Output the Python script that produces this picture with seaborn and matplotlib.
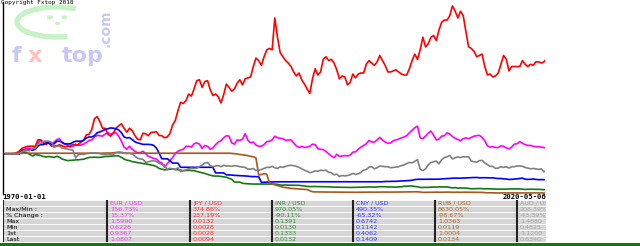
import numpy as np
import pandas as pd
import matplotlib
matplotlib.use("Agg")
import matplotlib.pyplot as plt
import seaborn as sns
from matplotlib.patches import Arc, Ellipse, Rectangle

# ---------------- data (quarterly, 1970-Q1 .. 2020-Q2, plus last day) ----------------
PAIRS = ["EUR / USD", "JPY / USD", "INR / USD", "CNY / USD", "RUB / USD", "AUD / USD"]
LINE_COLORS = ["#ff00ff", "#ff0000", "#137a13", "#0000ff", "#a8561f", "#808080"]
TEXT_COLORS = ["#f040f0", "#ff3030", "#2f8f2f", "#3838ff", "#b06a2a", "#a8a8a8"]

# USD per EUR
EUR_USD = [
0.9367, 0.935, 0.938, 0.940,
0.945, 0.970, 0.990, 1.030,
1.050, 1.070, 1.060, 1.060,
1.100, 1.200, 1.270, 1.190,
1.170, 1.230, 1.170, 1.220,
1.280, 1.300, 1.200, 1.170,
1.150, 1.100, 1.120, 1.170,
1.140, 1.150, 1.170, 1.210,
1.260, 1.270, 1.340, 1.380,
1.370, 1.360, 1.410, 1.440,
1.410, 1.430, 1.440, 1.360,
1.240, 1.100, 1.050, 1.120,
1.050, 1.000, 0.970, 0.970,
1.000, 0.950, 0.880, 0.860,
0.830, 0.820, 0.750, 0.730,
0.6228, 0.700, 0.780, 0.850,
0.950, 1.000, 1.030, 1.050,
1.120, 1.120, 1.100, 1.180,
1.200, 1.170, 1.070, 1.140,
1.120, 1.050, 1.080, 1.160,
1.220, 1.250, 1.320, 1.370,
1.360, 1.200, 1.170, 1.270,
1.260, 1.290, 1.420, 1.260,
1.200, 1.220, 1.150, 1.120,
1.120, 1.160, 1.230, 1.240,
1.270, 1.360, 1.320, 1.310,
1.300, 1.260, 1.270, 1.270,
1.200, 1.130, 1.090, 1.120,
1.090, 1.100, 1.120, 1.170,
1.160, 1.060, 1.050, 1.040,
1.000, 0.940, 0.890, 0.850,
0.930, 0.880, 0.890, 0.900,
0.890, 0.910, 0.980, 0.990,
1.050, 1.100, 1.140, 1.180,
1.260, 1.220, 1.220, 1.270,
1.330, 1.270, 1.220, 1.190,
1.200, 1.250, 1.270, 1.290,
1.320, 1.340, 1.370, 1.440,
1.500, 1.560, 1.599, 1.320,
1.300, 1.360, 1.430, 1.480,
1.380, 1.270, 1.290, 1.360,
1.370, 1.440, 1.410, 1.350,
1.310, 1.280, 1.250, 1.300,
1.320, 1.300, 1.330, 1.360,
1.370, 1.380, 1.330, 1.250,
1.130, 1.100, 1.110, 1.090,
1.090, 1.130, 1.120, 1.080,
1.060, 1.100, 1.170, 1.180,
1.230, 1.190, 1.160, 1.140,
1.140, 1.120, 1.110, 1.110,
1.100, 1.090, 1.0807]

# JPY per USD
JPY_PER_USD = [
360, 360, 360, 360,
358, 358, 337, 316,
308, 302, 301, 301,
301, 265, 265, 280,
290, 280, 300, 300,
298, 292, 298, 305,
302, 299, 290, 295,
290, 277, 266, 242,
240, 222, 190, 185,
198, 218, 218, 240,
248, 235, 218, 210,
204, 218, 232, 218,
226, 245, 262, 265,
236, 238, 246, 233,
232, 230, 245, 246,
255, 252, 238, 208,
195, 172, 156, 158,
153, 143, 146, 136,
126, 125, 134, 127,
126, 137, 145, 143,
147, 157, 144, 130,
134, 139, 136, 129,
125, 131, 124, 123,
122, 112, 105, 107,
111, 104, 99, 98,
99, 81, 91, 101,
104, 107, 109, 112,
117, 121, 118, 125,
130, 136, 142, 124,
114, 120, 117, 106,
104, 107, 106, 109,
115, 124, 121, 122,
131, 128, 119, 123,
119, 118, 118, 110,
107, 109, 111, 108,
103, 107, 111, 117,
117, 116, 115, 117,
119, 120, 120, 114,
107, 102, 106, 99,
91, 97, 95, 91,
90, 93, 87, 83,
82, 82, 80, 75.8,
78, 81, 78, 80,
88, 97, 98, 100,
104, 103, 102, 112,
120, 119, 122, 121,
118, 110, 103, 106,
116, 112, 112, 112,
112, 107, 110, 112,
110, 111, 108, 108,
109, 108, 106.8]

# INR per USD
INR_PER_USD = [
7.50, 7.50, 7.50, 7.50,
7.50, 7.50, 7.40, 7.28,
7.19, 7.30, 7.60, 7.90,
7.60, 7.70, 7.80, 8.00,
8.10, 8.00, 8.10, 8.20,
7.95, 8.20, 8.60, 8.80,
9.00, 8.95, 8.90, 8.80,
8.80, 8.70, 8.65, 8.40,
8.20, 8.20, 8.15, 8.20,
8.20, 8.10, 8.00, 8.00,
7.95, 7.90, 7.85, 7.90,
8.20, 8.60, 8.90, 9.00,
9.30, 9.40, 9.60, 9.70,
9.90, 10.00, 10.20, 10.40,
10.60, 11.00, 11.80, 12.20,
12.50, 12.40, 12.20, 12.10,
12.30, 12.50, 12.70, 13.00,
12.90, 12.80, 12.90, 13.00,
13.40, 13.80, 14.20, 14.80,
15.50, 16.20, 16.80, 17.00,
17.00, 17.40, 17.80, 18.20,
19.60, 20.80, 25.90, 26.00,
26.00, 29.00, 30.00, 30.50,
31.20, 31.40, 31.40, 31.40,
31.40, 31.40, 31.40, 31.40,
31.70, 31.40, 32.50, 35.00,
35.60, 34.70, 35.70, 35.80,
35.90, 35.80, 36.20, 38.00,
39.30, 41.50, 42.80, 42.50,
42.50, 43.00, 43.50, 43.50,
43.60, 44.30, 45.70, 46.50,
46.70, 47.00, 47.60, 48.00,
48.50, 48.80, 48.50, 48.20,
47.80, 47.20, 46.00, 45.60,
45.40, 45.50, 46.20, 45.00,
43.60, 43.60, 43.70, 45.50,
44.90, 45.80, 46.40, 44.80,
44.30, 41.00, 40.60, 39.40,
39.40, 42.00, 44.00, 48.60,
49.50, 48.00, 48.40, 46.70,
45.50, 46.30, 45.10, 44.80,
45.20, 44.60, 48.90, 53.00,
50.00, 55.50, 53.00, 54.80,
54.50, 59.00, 63.00, 62.00,
60.00, 59.50, 61.50, 63.00,
62.50, 63.80, 65.50, 66.50,
67.50, 67.30, 66.70, 67.90,
65.00, 64.60, 64.40, 63.90,
65.20, 68.50, 72.50, 70.00,
69.20, 69.70, 70.50, 71.30,
75.00, 76.90, 75.84]

# CNY per USD
CNY_PER_USD = [
2.462, 2.462, 2.462, 2.462,
2.462, 2.462, 2.462, 2.267,
2.267, 2.245, 2.245, 2.245,
2.200, 2.050, 1.990, 1.990,
1.920, 1.920, 1.980, 1.960,
1.860, 1.860, 1.900, 1.960,
1.960, 1.960, 1.900, 1.860,
1.860, 1.860, 1.830, 1.750,
1.720, 1.720, 1.680, 1.600,
1.580, 1.550, 1.520, 1.500,
1.483, 1.490, 1.500, 1.530,
1.600, 1.720, 1.750, 1.740,
1.800, 1.880, 1.920, 1.950,
1.980, 1.980, 1.980, 1.990,
2.020, 2.140, 2.400, 2.800,
2.800, 2.800, 2.950, 3.200,
3.200, 3.200, 3.710, 3.710,
3.710, 3.710, 3.710, 3.710,
3.710, 3.710, 3.710, 3.710,
3.710, 3.710, 3.710, 4.720,
4.720, 4.720, 4.720, 5.220,
5.220, 5.300, 5.360, 5.400,
5.450, 5.480, 5.500, 5.600,
5.720, 5.750, 5.780, 5.800,
8.757, 8.650, 8.550, 8.500,
8.450, 8.300, 8.320, 8.320,
8.310, 8.320, 8.300, 8.290,
8.280, 8.280, 8.280, 8.280,
8.280, 8.280, 8.280, 8.280,
8.280, 8.280, 8.280, 8.280,
8.280, 8.280, 8.280, 8.280,
8.280, 8.280, 8.280, 8.280,
8.280, 8.280, 8.280, 8.280,
8.280, 8.280, 8.280, 8.280,
8.280, 8.280, 8.280, 8.280,
8.280, 8.280, 8.110, 8.080,
8.060, 8.000, 7.970, 7.870,
7.800, 7.720, 7.580, 7.500,
7.300, 7.000, 6.850, 6.830,
6.830, 6.830, 6.830, 6.830,
6.830, 6.830, 6.780, 6.660,
6.600, 6.540, 6.450, 6.370,
6.300, 6.320, 6.360, 6.280,
6.230, 6.180, 6.140, 6.110,
6.050, 6.200, 6.160, 6.140,
6.200, 6.200, 6.210, 6.380,
6.500, 6.470, 6.650, 6.680,
6.930, 6.870, 6.750, 6.600,
6.500, 6.300, 6.800, 6.900,
6.850, 6.700, 6.900, 7.050,
6.960, 7.080, 7.097]

# USD per RUB
RUB_USD = [
1.0004, 1.020, 1.020, 1.020,
1.020, 1.020, 1.020, 1.020,
1.020, 1.020, 1.020, 1.020,
1.020, 1.020, 1.020, 1.020,
1.020, 1.020, 1.020, 1.020,
1.020, 1.020, 1.020, 1.020,
1.020, 1.020, 1.020, 1.020,
1.020, 1.020, 1.020, 1.020,
1.020, 1.020, 1.020, 1.020,
1.020, 1.020, 1.025, 1.025,
1.025, 1.030, 1.0363, 1.030,
1.030, 1.025, 1.025, 1.020,
1.020, 1.020, 1.020, 1.020,
1.020, 1.020, 1.020, 1.020,
1.020, 1.020, 1.020, 1.020,
1.020, 1.020, 1.020, 1.020,
1.020, 1.020, 1.020, 1.020,
1.020, 1.020, 1.020, 1.020,
1.020, 1.020, 1.020, 1.020,
1.020, 1.020, 1.020, 1.020,
1.020, 1.020, 1.020, 1.020,
1.020, 1.015, 1.010, 1.000,
0.990, 0.980, 0.970, 0.960,
0.940, 0.930, 0.900, 0.470,
0.480, 0.500, 0.490, 0.270,
0.240, 0.220, 0.200, 0.180,
0.160, 0.150, 0.140, 0.130,
0.125, 0.120, 0.115, 0.110,
0.105, 0.100, 0.070, 0.045,
0.040, 0.039, 0.040, 0.037,
0.035, 0.036, 0.036, 0.036,
0.035, 0.034, 0.034, 0.033,
0.032, 0.032, 0.032, 0.031,
0.032, 0.032, 0.033, 0.034,
0.035, 0.034, 0.034, 0.035,
0.036, 0.036, 0.035, 0.035,
0.035, 0.036, 0.037, 0.038,
0.038, 0.039, 0.039, 0.040,
0.041, 0.042, 0.043, 0.038,
0.029, 0.030, 0.032, 0.033,
0.033, 0.034, 0.032, 0.033,
0.033, 0.035, 0.036, 0.031,
0.031, 0.034, 0.030, 0.032,
0.033, 0.032, 0.030, 0.031,
0.030, 0.028, 0.028, 0.023,
0.016, 0.019, 0.018, 0.015,
0.0119, 0.015, 0.015, 0.016,
0.016, 0.017, 0.017, 0.017,
0.017, 0.016, 0.015, 0.015,
0.015, 0.015, 0.016, 0.016,
0.016, 0.0135, 0.0134]

# USD per AUD
AUD_USD = [
1.120, 1.120, 1.120, 1.120,
1.120, 1.120, 1.125, 1.190,
1.215, 1.215, 1.215, 1.275,
1.275, 1.410, 1.420, 1.480,
1.488, 1.480, 1.450, 1.310,
1.340, 1.340, 1.290, 1.270,
1.260, 1.240, 1.230, 1.010,
1.100, 1.110, 1.110, 1.130,
1.140, 1.150, 1.150, 1.150,
1.130, 1.110, 1.110, 1.110,
1.100, 1.110, 1.160, 1.180,
1.170, 1.150, 1.130, 1.140,
1.120, 1.060, 1.000, 0.980,
0.970, 0.880, 0.900, 0.920,
0.930, 0.910, 0.860, 0.830,
0.810, 0.680, 0.720, 0.690,
0.680, 0.730, 0.620, 0.650,
0.670, 0.700, 0.720, 0.710,
0.720, 0.760, 0.810, 0.860,
0.880, 0.790, 0.760, 0.780,
0.790, 0.760, 0.800, 0.780,
0.780, 0.770, 0.790, 0.780,
0.760, 0.750, 0.740, 0.690,
0.690, 0.710, 0.650, 0.660,
0.680, 0.710, 0.740, 0.740,
0.770, 0.730, 0.710, 0.760,
0.740, 0.770, 0.790, 0.800,
0.790, 0.770, 0.740, 0.700,
0.660, 0.630, 0.590, 0.610,
0.640, 0.630, 0.660, 0.650,
0.660, 0.600, 0.590, 0.530,
0.550, 0.4825, 0.510, 0.500,
0.510, 0.530, 0.570, 0.540,
0.560, 0.600, 0.660, 0.680,
0.750, 0.760, 0.700, 0.730,
0.780, 0.770, 0.760, 0.760,
0.730, 0.740, 0.750, 0.760,
0.790, 0.810, 0.850, 0.880,
0.870, 0.910, 0.960, 0.690,
0.650, 0.700, 0.810, 0.880,
0.900, 0.920, 0.840, 0.960,
1.020, 1.040, 1.080, 0.980,
1.010, 1.040, 1.020, 1.040,
1.040, 1.040, 0.920, 0.900,
0.890, 0.930, 0.940, 0.870,
0.820, 0.770, 0.770, 0.710,
0.720, 0.760, 0.740, 0.760,
0.720, 0.760, 0.760, 0.780,
0.780, 0.770, 0.740, 0.720,
0.700, 0.710, 0.700, 0.680,
0.700, 0.610, 0.634]

# statistics table
ROW_LABELS = ["", "Max/Min :", "% Change :", "Max", "Min", "1st", "Last"]
MAXMIN = ["156.73%", "374.86%", "970.05%", "490.35%", "8630.05%", "208.39%"]
CHANGE = ["15.37%", "237.19%", "-90.11%", "-65.32%", "-98.67%", "-43.39%"]
MAXV = ["1.5990", "0.0132", "0.1391", "0.6742", "1.0363", "1.4880"]
MINV = ["0.6228", "0.0028", "0.0130", "0.1142", "0.0119", "0.4825"]
FIRSTV = ["0.9367", "0.0028", "0.1333", "0.4062", "1.0004", "1.1200"]
LASTV = ["1.0807", "0.0094", "0.0132", "0.1409", "0.0134", "0.6340"]
DATE_FIRST, DATE_LAST = "1970-01-01", "2020-05-06"

# ---------------- build long table: each series as index relative to its 1st value ------
dates = list(pd.date_range(DATE_FIRST, "2020-04-01", freq="QS")) + [pd.Timestamp(DATE_LAST)]
series = {
    "EUR / USD": np.array(EUR_USD) / EUR_USD[0],
    "JPY / USD": JPY_PER_USD[0] / np.array(JPY_PER_USD, float),
    "INR / USD": INR_PER_USD[0] / np.array(INR_PER_USD),
    "CNY / USD": CNY_PER_USD[0] / np.array(CNY_PER_USD),
    "RUB / USD": np.array(RUB_USD) / RUB_USD[0],
    "AUD / USD": np.array(AUD_USD) / AUD_USD[0],
}
for k, v in series.items():
    assert len(v) == len(dates), (k, len(v), len(dates))
df = pd.concat([pd.DataFrame({"date": dates, "index": v, "pair": k}) for k, v in series.items()])

# ---------------- figure ----------------
sns.set_theme(style="white")
plt.rcParams["font.family"] = ["DejaVu Sans"]
W, H = 640, 246
fig = plt.figure(figsize=(6.4, 2.46), dpi=100)
fig.patch.set_facecolor("white")

def fx(px): return px / W
def fy(py): return 1 - py / H

# background layer (pixel coordinates): logo, labels, green bar
bg = fig.add_axes([0, 0, 1, 1])
bg.set_xlim(0, W); bg.set_ylim(H, 0); bg.axis("off")
green_l = "#c6f2c6"
bg.add_patch(Arc((57, 22), 80, 30, theta1=55, theta2=325, color=green_l, lw=3.8))
for cx, cy, w, h in [(50, 17.3, 6, 4), (64.5, 17.3, 6, 4), (57.5, 23.3, 5, 3.5)]:
    bg.add_patch(Ellipse((cx, cy), w, h, color=green_l, lw=0))
bg.text(12, 62, "f", color="#c8c8f8", fontsize=16, weight="bold", va="baseline", ha="left")
bg.text(28, 62, "x", color="#ffc0c0", fontsize=16, weight="bold", va="baseline", ha="left")
bg.text(62, 62, "top", color="#c8c8f8", fontsize=16, weight="bold", va="baseline", ha="left")
bg.text(106, 28, ".com", color="#c8c8f8", fontsize=10, weight="bold", rotation=90,
        va="center", ha="center")
bg.text(1, 0, "Copyright Fxtop 2010", fontsize=4.3, family="DejaVu Sans Mono",
        va="top", ha="left", color="black")
bg.text(2, 196.8, DATE_FIRST, fontsize=5.2, family="DejaVu Sans Mono", weight="bold",
        va="center", ha="left", color="black")
bg.text(546, 196.8, DATE_LAST, fontsize=5.2, family="DejaVu Sans Mono", weight="bold",
        va="center", ha="right", color="black")
bg.add_patch(Rectangle((0, 242.5), W, 3.5, color="#0f780f", lw=0))

# main chart
ax = fig.add_axes([fx(3), fy(193.5), (545 - 3) / W, (193.5 - 2) / H])
ax.patch.set_alpha(0)
sns.lineplot(data=df, x="date", y="index", hue="pair", hue_order=PAIRS,
             palette=dict(zip(PAIRS, LINE_COLORS)), estimator=None, sort=False,
             legend=False, linewidth=1.2, ax=ax)
ax.set_xlim(pd.Timestamp(DATE_FIRST), pd.Timestamp(DATE_LAST))
ax.set_ylim(0, 191.5 / 39.5)
for s in ["top", "right", "bottom"]:
    ax.spines[s].set_visible(False)
ax.spines["left"].set_color("black"); ax.spines["left"].set_linewidth(1.0)
ax.set_xticks([]); ax.set_yticks([]); ax.set_xlabel(""); ax.set_ylabel("")

# statistics table
tab = fig.add_axes([fx(3), fy(242), (546 - 3) / W, (242 - 200) / H])
tab.set_xlim(3, 546); tab.set_ylim(242, 200); tab.axis("off")
row_h = 6.0
col_x = [3, 107, 190, 272, 353, 435, 517]
for i in range(7):
    tab.add_patch(Rectangle((3, 200 + i * row_h), 543, row_h, fc="#d6d6d6",
                            ec="white", lw=0.6))
tab.vlines(col_x, 200, 242, colors="#222222", lw=1.5)
cols = [PAIRS, MAXMIN, CHANGE, MAXV, MINV, FIRSTV, LASTV]
for i in range(7):
    yc = 200 + i * row_h + row_h / 2
    tab.text(6, yc, ROW_LABELS[i], fontsize=4.6, va="center", ha="left",
             color="black", clip_on=True)
    for j in range(6):
        tab.text(col_x[j + 1] + 3, yc, cols[i][j], fontsize=4.6, va="center",
                 ha="left", color=TEXT_COLORS[j], clip_on=True)

fig.savefig("out.png", dpi=100, facecolor="white")
